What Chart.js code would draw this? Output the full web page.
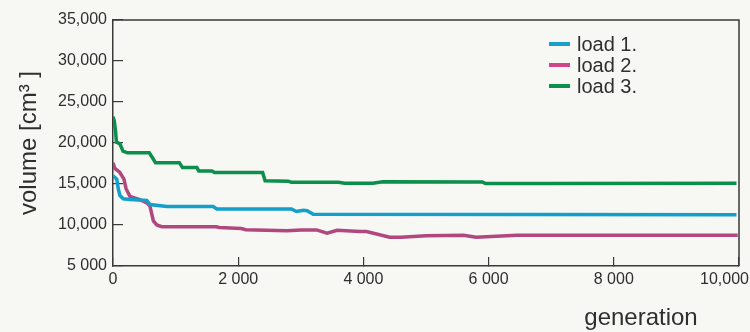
<!DOCTYPE html>
<html>
<head>
<meta charset="utf-8">
<script src="https://cdn.jsdelivr.net/npm/chart.js@4"></script>
<style>
  html, body { margin: 0; padding: 0; background: #f7f7f3; }
  canvas { display: block; }
</style>
</head>
<body>
<canvas id="myChart" width="750" height="332"></canvas>
<script>
const seriesNames = ['load 1.', 'load 2.', 'load 3.'];
const seriesColors = ['#129fcb', '#b0487f', '#0c8f4c'];
const legendColors = ['#1aa0c8', '#d0458c', '#0a9050'];

const load1Gen = [0, 60, 85, 110, 165, 270, 540, 590, 860, 1600, 1660, 2850, 2930, 3040, 3100, 3200, 9960];
const load1Vol = [16000, 15600, 14400, 13600, 13200, 13100, 13000, 12500, 12250, 12250, 11950, 11950, 11650, 11800, 11750, 11300, 11250];

const load2Gen = [0, 30, 110, 175, 210, 270, 430, 540, 590, 645, 700, 780, 1650, 1700, 2050, 2120, 2780, 3000, 3250, 3420, 3580, 3950, 4050, 4420, 4600, 5000, 5600, 5800, 6450, 9980];
const load2Vol = [17600, 16900, 16400, 15600, 14400, 13500, 13100, 12700, 12300, 10500, 10000, 9800, 9780, 9700, 9560, 9430, 9300, 9400, 9400, 9000, 9350, 9220, 9200, 8500, 8500, 8700, 8750, 8500, 8750, 8750];

const load3Gen = [0, 20, 40, 55, 110, 160, 230, 580, 680, 1060, 1110, 1340, 1370, 1580, 1620, 2390, 2430, 2800, 2850, 3600, 3700, 4150, 4310, 5900, 5950, 7000, 9960];
const load3Vol = [23200, 22700, 21500, 20100, 19900, 19000, 18800, 18800, 17600, 17600, 17000, 17000, 16600, 16600, 16400, 16400, 15400, 15350, 15200, 15200, 15080, 15080, 15270, 15250, 15050, 15050, 15100];

const yTickLabels = ['5 000', '10,000', '15,000', '20,000', '25,000', '30,000', '35,000'];
const xTickValues = [0, 2000, 4000, 6000, 8000, 10000];
const xTickLabels = ['0', '2 000', '4 000', '6 000', '8 000', '10,000'];

const yTitle = 'volume [cm\u00b3 ]';
const xTitle = 'generation';

function toPoints(gens, vols) {
  return gens.map((g, i) => ({ x: g, y: vols[i] }));
}

const FONT = '"Liberation Sans", Arial, sans-serif';
const TEXT = '#2f2f2f';

// box, x labels, legend, axis titles
const extras = {
  id: 'extras',
  afterDraw(chart) {
    const ctx = chart.ctx;
    const a = chart.chartArea;
    const xs = chart.scales.x;
    ctx.save();
    ctx.strokeStyle = '#3a3a3a';
    ctx.lineWidth = 1.5;
    ctx.beginPath();
    ctx.moveTo(a.left, a.top);
    ctx.lineTo(a.right, a.top);
    ctx.lineTo(a.right, a.bottom);
    ctx.stroke();

    ctx.fillStyle = TEXT;
    ctx.font = '16px ' + FONT;
    ctx.textAlign = 'center';
    ctx.textBaseline = 'middle';
    xTickValues.forEach((v, i) => {
      const w = ctx.measureText(xTickLabels[i]).width;
      const px = Math.min(xs.getPixelForValue(v), chart.width - 1 - w / 2);
      ctx.fillText(xTickLabels[i], px, a.bottom + 14);
    });

    ctx.font = '24px ' + FONT;
    ctx.fillText(xTitle, 641, 318);

    ctx.save();
    ctx.translate(29, (a.top + a.bottom) / 2);
    ctx.rotate(-Math.PI / 2);
    ctx.fillText(yTitle, 0, 0);
    ctx.restore();

    ctx.font = '20px ' + FONT;
    ctx.textAlign = 'left';
    ctx.lineWidth = 4;
    chart.data.datasets.forEach((ds, i) => {
      const y = 44 + i * 21;
      ctx.strokeStyle = legendColors[i];
      ctx.beginPath();
      ctx.moveTo(549, y);
      ctx.lineTo(570, y);
      ctx.stroke();
      ctx.fillStyle = TEXT;
      ctx.fillText(ds.label, 577, y + 1);
    });
    ctx.restore();
  }
};

const datasets = [
  toPoints(load1Gen, load1Vol),
  toPoints(load2Gen, load2Vol),
  toPoints(load3Gen, load3Vol)
].map((pts, i) => ({
  label: seriesNames[i],
  data: pts,
  borderColor: seriesColors[i],
  borderWidth: 3.5,
  pointRadius: 0,
  tension: 0,
  fill: false
}));

new Chart(document.getElementById('myChart').getContext('2d'), {
  type: 'line',
  data: { datasets: datasets },
  options: {
    responsive: false,
    animation: false,
    events: [],
    layout: { padding: { top: 20, right: 11, left: 0, bottom: 0 } },
    plugins: { legend: { display: false }, tooltip: { enabled: false } },
    scales: {
      x: {
        type: 'linear',
        min: 0,
        max: 10000,
        grid: { drawOnChartArea: false, tickLength: -9, color: '#3a3a3a', lineWidth: 1.2 },
        border: { color: '#3a3a3a', width: 1.5 },
        ticks: { stepSize: 2000, autoSkip: false, maxRotation: 0, color: 'rgba(0,0,0,0)', font: { size: 16, family: FONT } },
        afterFit(s) { s.height = 66; s.paddingLeft = 0; s.paddingRight = 0; }
      },
      y: {
        min: 5000,
        max: 35000,
        grid: { drawOnChartArea: false, tickLength: -10, color: '#3a3a3a', lineWidth: 1.2 },
        border: { color: '#3a3a3a', width: 1.5 },
        ticks: {
          stepSize: 5000,
          padding: 16,
          color: TEXT,
          font: { size: 16, family: FONT },
          callback: (v, i) => yTickLabels[i]
        },
        afterFit(s) { s.width = 113; s.paddingTop = 0; s.paddingBottom = 0; }
      }
    }
  },
  plugins: [extras]
});
</script>
</body>
</html>
